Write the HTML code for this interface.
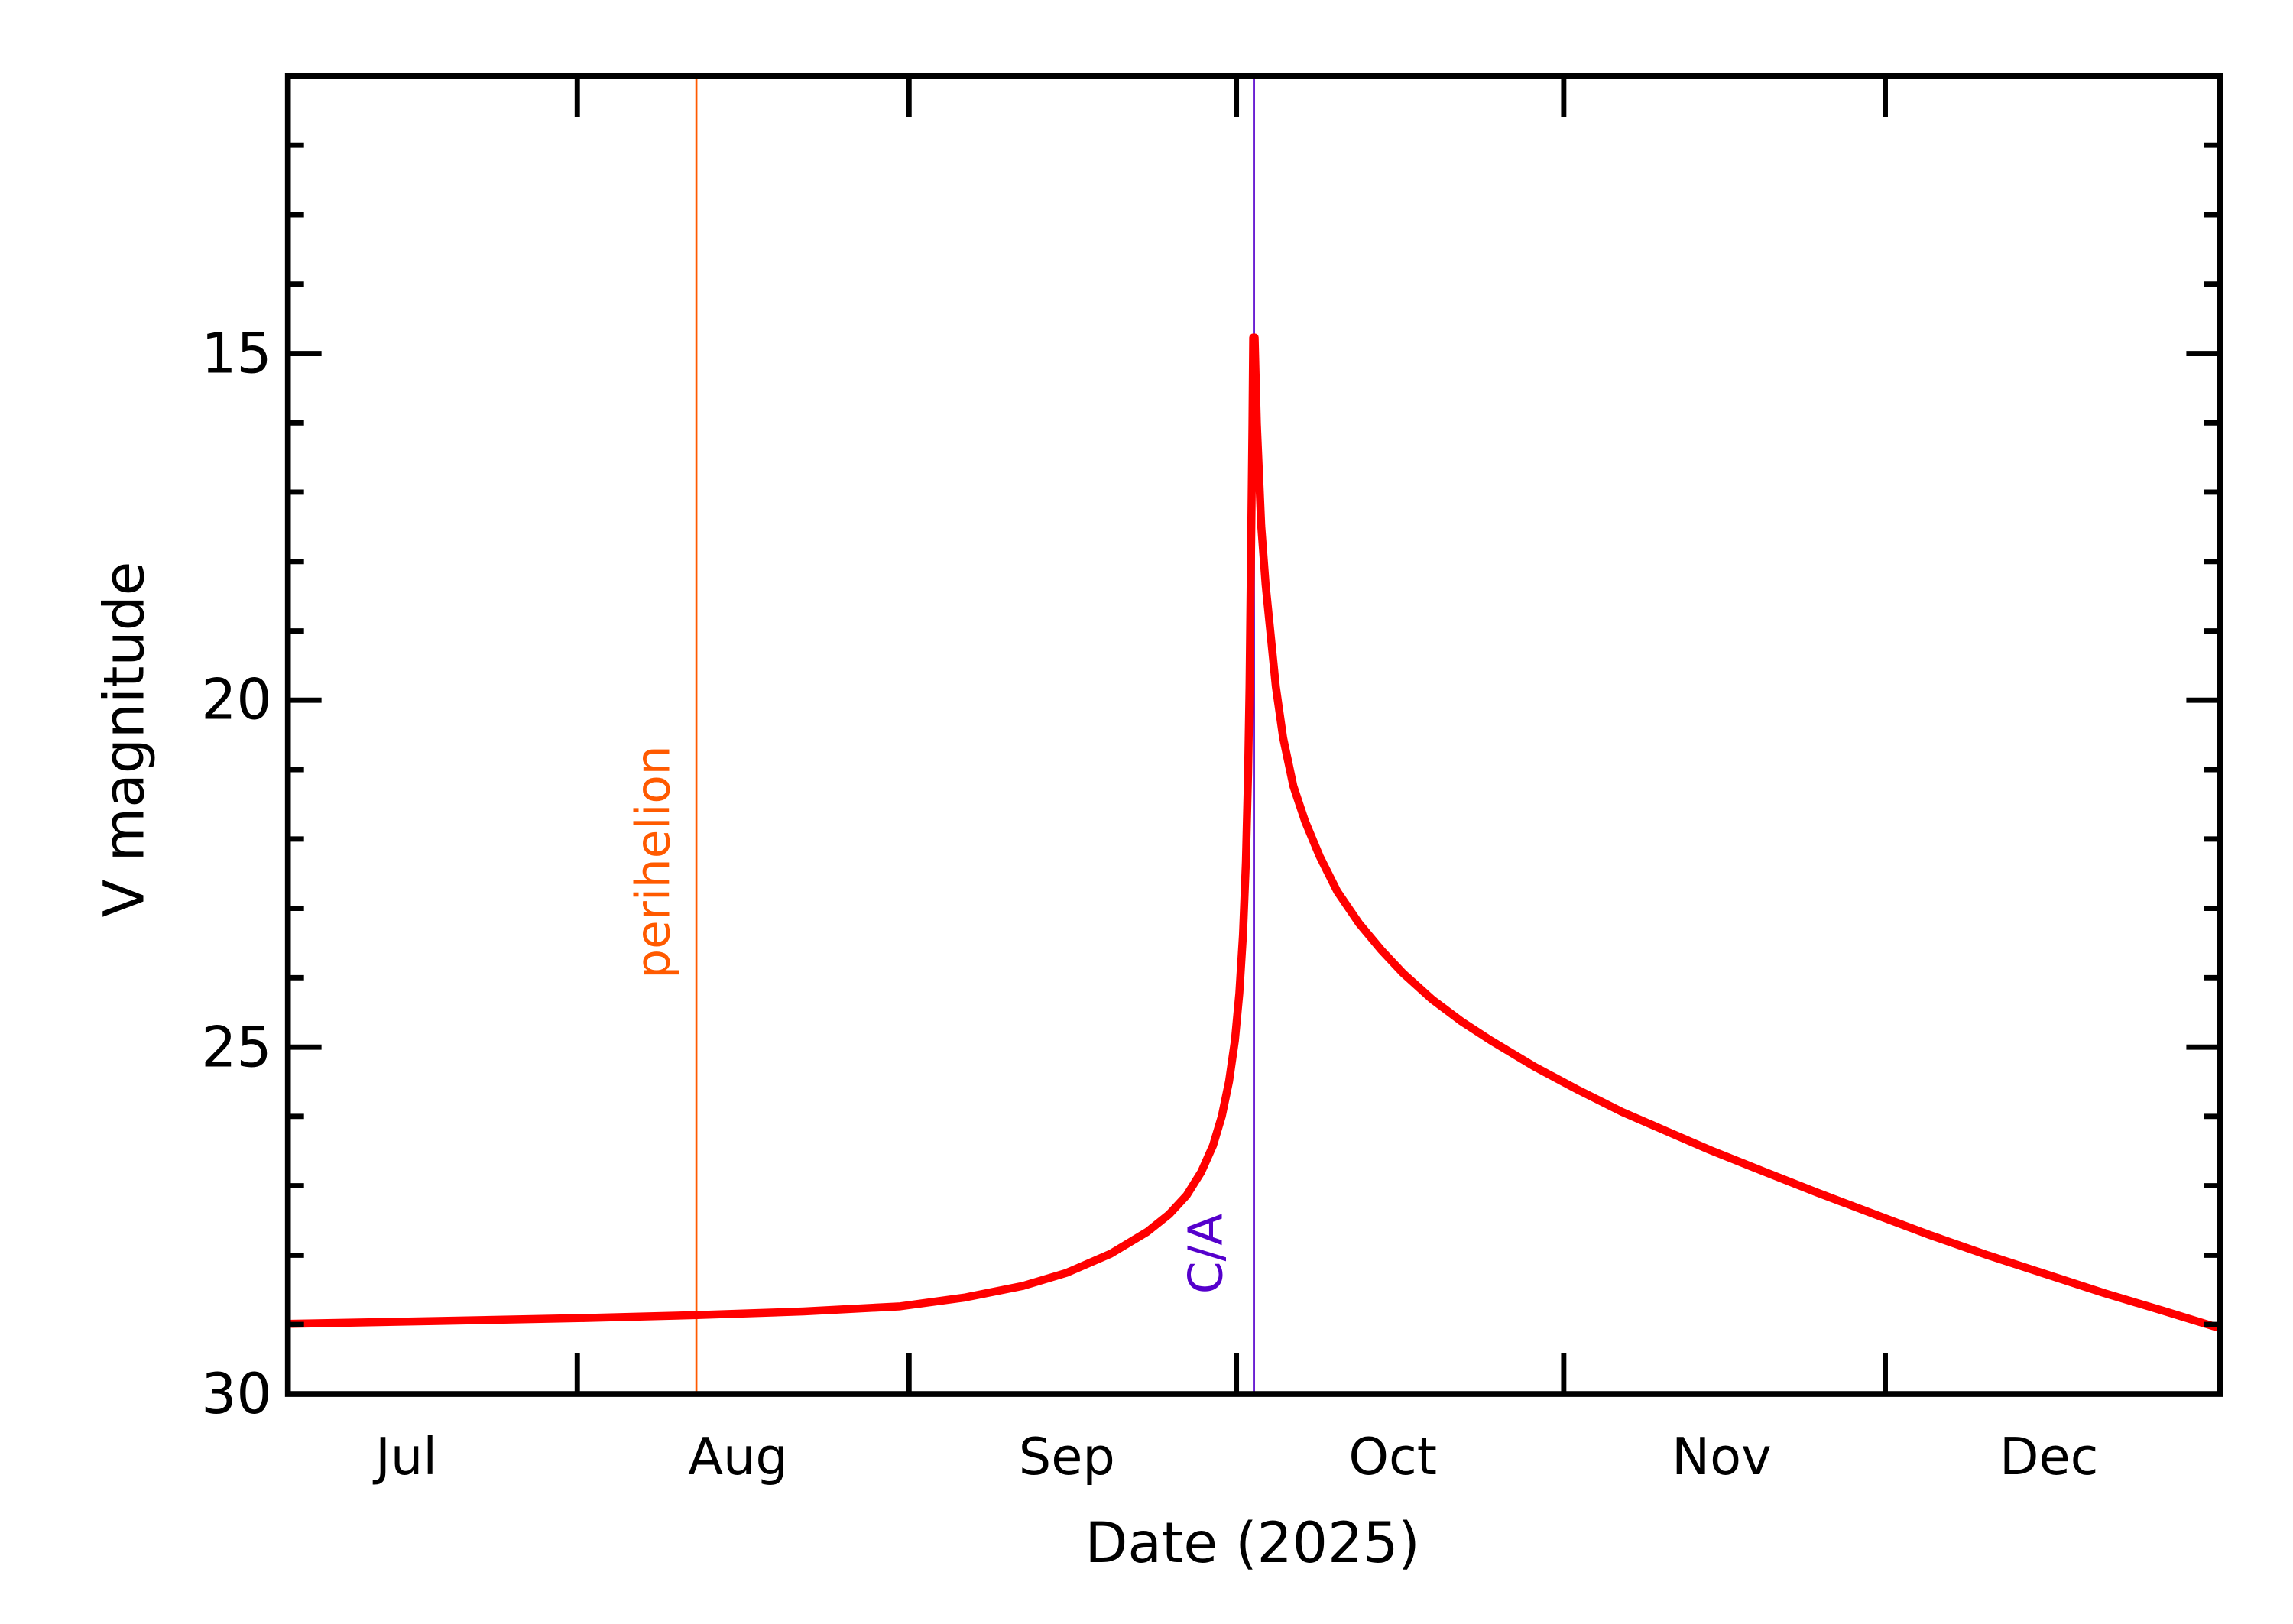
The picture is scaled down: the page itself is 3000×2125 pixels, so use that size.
<!DOCTYPE html>
<html><head><style>html,body{margin:0;padding:0;background:#fff}svg{display:block}</style></head>
<body>
<svg width="3000" height="2125" viewBox="0 0 1569 1111.4" preserveAspectRatio="none" xmlns="http://www.w3.org/2000/svg" font-family="'DejaVu Sans','Liberation Sans',sans-serif">
<line x1="476.5" y1="52" x2="476.5" y2="954" stroke="#ff5a00" stroke-width="1.4"/>
<line x1="858" y1="52" x2="858" y2="954" stroke="#5500cc" stroke-width="1.4"/>
<path fill="none" stroke="#ff0000" stroke-width="5.5" stroke-linejoin="round" d="M197,906 L300,904 L400,902 L477,900 L550,897.5 L616,894 L660,888 L700,880 L730,871 L760,858 L785,843 L800,831 L812,818 L822,802 L830,784 L836,764 L841,740 L845,712 L848,680 L850.5,640 L852.5,590 L854,530 L855,470 L856,380 L857,290 L857.5,231 L858.5,231 L860,290 L863,360 L866,400 L869,430 L873,470 L878,505 L885,538 L893,562 L903,586 L915,610 L930,632 L945,650 L960,666 L980,684 L1000,699 L1020,712 L1050,730 L1080,746 L1110,761 L1140,774 L1170,787 L1205,801 L1243,816 L1280,830 L1320,845 L1360,859 L1400,872 L1440,885 L1480,897 L1519,909"/>
<g stroke="#000" stroke-width="4" fill="none">
<rect x="197" y="52" width="1322" height="902"/>
</g>
<g stroke="#000" stroke-width="3.6">
<line x1="395" y1="954" x2="395" y2="926"/><line x1="395" y1="52" x2="395" y2="80"/>
<line x1="622" y1="954" x2="622" y2="926"/><line x1="622" y1="52" x2="622" y2="80"/>
<line x1="846" y1="954" x2="846" y2="926"/><line x1="846" y1="52" x2="846" y2="80"/>
<line x1="1070" y1="954" x2="1070" y2="926"/><line x1="1070" y1="52" x2="1070" y2="80"/>
<line x1="1290" y1="954" x2="1290" y2="926"/><line x1="1290" y1="52" x2="1290" y2="80"/>
<line x1="197" y1="99.5" x2="208" y2="99.5"/><line x1="1519" y1="99.5" x2="1508" y2="99.5"/>
<line x1="197" y1="147" x2="208" y2="147"/><line x1="1519" y1="147" x2="1508" y2="147"/>
<line x1="197" y1="194.4" x2="208" y2="194.4"/><line x1="1519" y1="194.4" x2="1508" y2="194.4"/>
<line x1="197" y1="241.9" x2="220" y2="241.9"/><line x1="1519" y1="241.9" x2="1496" y2="241.9"/>
<line x1="197" y1="289.4" x2="208" y2="289.4"/><line x1="1519" y1="289.4" x2="1508" y2="289.4"/>
<line x1="197" y1="336.8" x2="208" y2="336.8"/><line x1="1519" y1="336.8" x2="1508" y2="336.8"/>
<line x1="197" y1="384.3" x2="208" y2="384.3"/><line x1="1519" y1="384.3" x2="1508" y2="384.3"/>
<line x1="197" y1="431.8" x2="208" y2="431.8"/><line x1="1519" y1="431.8" x2="1508" y2="431.8"/>
<line x1="197" y1="479.2" x2="220" y2="479.2"/><line x1="1519" y1="479.2" x2="1496" y2="479.2"/>
<line x1="197" y1="526.7" x2="208" y2="526.7"/><line x1="1519" y1="526.7" x2="1508" y2="526.7"/>
<line x1="197" y1="574.2" x2="208" y2="574.2"/><line x1="1519" y1="574.2" x2="1508" y2="574.2"/>
<line x1="197" y1="621.6" x2="208" y2="621.6"/><line x1="1519" y1="621.6" x2="1508" y2="621.6"/>
<line x1="197" y1="669.1" x2="208" y2="669.1"/><line x1="1519" y1="669.1" x2="1508" y2="669.1"/>
<line x1="197" y1="716.6" x2="220" y2="716.6"/><line x1="1519" y1="716.6" x2="1496" y2="716.6"/>
<line x1="197" y1="764" x2="208" y2="764"/><line x1="1519" y1="764" x2="1508" y2="764"/>
<line x1="197" y1="811.5" x2="208" y2="811.5"/><line x1="1519" y1="811.5" x2="1508" y2="811.5"/>
<line x1="197" y1="859" x2="208" y2="859"/><line x1="1519" y1="859" x2="1508" y2="859"/>
<line x1="197" y1="906.4" x2="208" y2="906.4"/><line x1="1519" y1="906.4" x2="1508" y2="906.4"/>
</g>
<g font-size="38" fill="#000" text-anchor="end">
<text x="186" y="255">15</text>
<text x="186" y="492">20</text>
<text x="186" y="730">25</text>
<text x="186" y="967">30</text>
</g>
<g font-size="35" fill="#000" text-anchor="middle">
<text x="278" y="1009">Jul</text>
<text x="505" y="1009">Aug</text>
<text x="730" y="1009">Sep</text>
<text x="953" y="1009">Oct</text>
<text x="1178" y="1009">Nov</text>
<text x="1402" y="1009">Dec</text>
<text x="857" y="1069" font-size="38">Date (2025)</text>
<text transform="translate(98,506) rotate(-90)" font-size="38">V magnitude</text>
<text transform="translate(458,590) rotate(-90)" font-size="32" fill="#ff5a00">perihelion</text>
<text transform="translate(836,858) rotate(-90)" font-size="32" fill="#5500cc">C/A</text>
</g>
</svg>
</body></html>
